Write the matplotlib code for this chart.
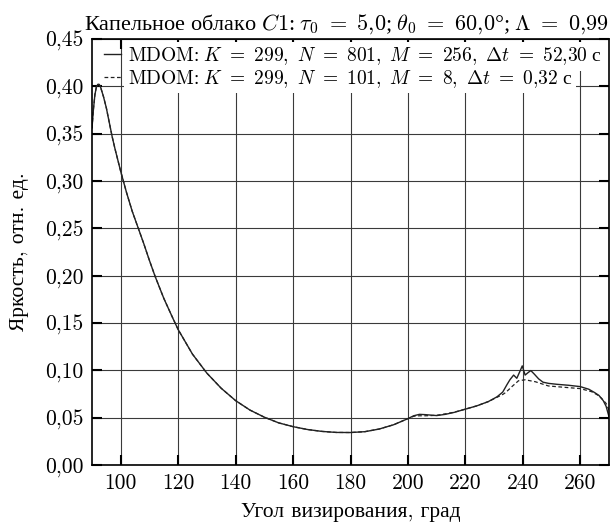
import numpy as np
import matplotlib
matplotlib.use('Agg')
import matplotlib.pyplot as plt
from matplotlib.ticker import FuncFormatter, MultipleLocator

plt.rcParams['font.family'] = ['cmr10', 'Liberation Serif', 'DejaVu Serif']
plt.rcParams['mathtext.fontset'] = 'cm'
plt.rcParams['axes.unicode_minus'] = False
plt.rcParams['axes.formatter.use_mathtext'] = True

# viewing angle, deg, and brightness for the fine run (solid)
angle_fine = [90, 90.5, 91, 91.5, 92, 92.5, 93, 94, 95, 96, 97, 98, 100, 102, 104,
              106, 108, 110, 112, 115, 118, 120, 125, 130, 135, 140, 145, 150, 155,
              160, 165, 170, 175, 180, 185, 190, 195, 200, 202, 204, 206, 208, 210,
              213, 216, 220, 224, 228, 231, 233, 234.5, 235.5, 236.8, 237.9, 239,
              239.8, 240.8, 242, 242.8, 244, 245.5, 247, 249, 252, 256, 260, 263,
              265, 266.5, 268, 269, 270]
bright_fine = [0.356, 0.376, 0.391, 0.399, 0.402, 0.402, 0.399, 0.389, 0.377, 0.362,
               0.347, 0.334, 0.310, 0.288, 0.268, 0.251, 0.234, 0.216, 0.199, 0.176,
               0.156, 0.143, 0.117, 0.097, 0.081, 0.068, 0.058, 0.0505, 0.0445,
               0.0405, 0.0375, 0.0355, 0.0344, 0.0343, 0.0352, 0.038, 0.0425, 0.049,
               0.052, 0.0535, 0.0532, 0.0527, 0.0522, 0.0535, 0.0555, 0.059, 0.0625,
               0.067, 0.072, 0.077, 0.085, 0.090, 0.095, 0.0916, 0.099, 0.1047, 0.095,
               0.098, 0.0997, 0.096, 0.091, 0.0875, 0.0862, 0.0852, 0.0842, 0.0828,
               0.0800, 0.0765, 0.0735, 0.068, 0.062, 0.051]

# coarse run (dashed): same as fine up to 200 deg, own tail after
angle_coarse = angle_fine[:37] + [200, 202, 204, 206, 208, 210, 213, 216, 220, 224,
                                  228, 231, 233, 234, 236.2, 238.5, 240.8, 244.3,
                                  248.9, 254.7, 260, 263.9, 266, 267.4, 269, 270]
bright_coarse = bright_fine[:37] + [0.049, 0.0515, 0.052, 0.052, 0.0522, 0.0525,
                                    0.054, 0.0557, 0.059, 0.0625, 0.067, 0.0715,
                                    0.0745, 0.0765, 0.0828, 0.089, 0.090, 0.088,
                                    0.0835, 0.082, 0.0807, 0.0775, 0.074, 0.0705,
                                    0.065, 0.058]

label_fine = (r'$\mathrm{MDOM}$: $K\ =\ 299,\ N\ =\ 801,\ M\ =\ 256,\ '
              r'\Delta t\ =\ 52{,}30$ с')
label_coarse = (r'$\mathrm{MDOM}$: $K\ =\ 299,\ N\ =\ 101,\ M\ =\ 8,\ '
                r'\Delta t\ =\ 0{,}32$ с')
title = (r'Капельное облако $C1$: $\tau_0\ =\ 5{,}0$; $\theta_0\ =\ 60{,}0$°; '
         r'$\Lambda\ =\ 0{,}99$')

fig = plt.figure(figsize=(6.11, 5.22), dpi=100)
ax = fig.add_axes([0.1506, 0.1092, 0.8461, 0.8161])

ax.plot(angle_fine, bright_fine, color='#222222', lw=1.0, label=label_fine, zorder=5)
ax.plot(angle_coarse, bright_coarse, color='#222222', lw=0.9, dashes=(3, 2),
        label=label_coarse, zorder=5)

ax.set_xlim(90, 270)
ax.set_ylim(0, 0.45)
ax.xaxis.set_major_locator(MultipleLocator(20))
ax.yaxis.set_major_locator(MultipleLocator(0.05))
ax.yaxis.set_major_formatter(FuncFormatter(lambda v, p: f'{v:.2f}'.replace('.', ',')))
ax.xaxis.set_major_formatter(FuncFormatter(lambda v, p: f'{v:.0f}'))
ax.tick_params(direction='in', length=7, width=1.5, labelsize=15.5,
               top=True, right=True, pad=6)
ax.grid(True, color='#3a3a3a', lw=0.8, zorder=1)
for s in ax.spines.values():
    s.set_linewidth(1.2)
    s.set_zorder(6)

ax.set_xlabel('Угол визирования, град', fontsize=15.5, labelpad=7)
ax.set_ylabel('Яркость, отн. ед.', fontsize=15.5, labelpad=12)
ax.set_title(title, fontsize=16, pad=7, loc='right', family='Liberation Serif')

leg = ax.legend(loc='upper left', bbox_to_anchor=(0.02, 0.99), borderaxespad=0,
                prop={'family': 'Liberation Serif', 'size': 14},
                handlelength=0.85, handletextpad=0.35,
                labelspacing=0.05, borderpad=0.1, frameon=False)
for t in leg.get_texts():
    t.set_bbox(dict(facecolor='white', edgecolor='none', pad=2.5))
leg.set_zorder(4)

fig.savefig('out.png', dpi=100)
